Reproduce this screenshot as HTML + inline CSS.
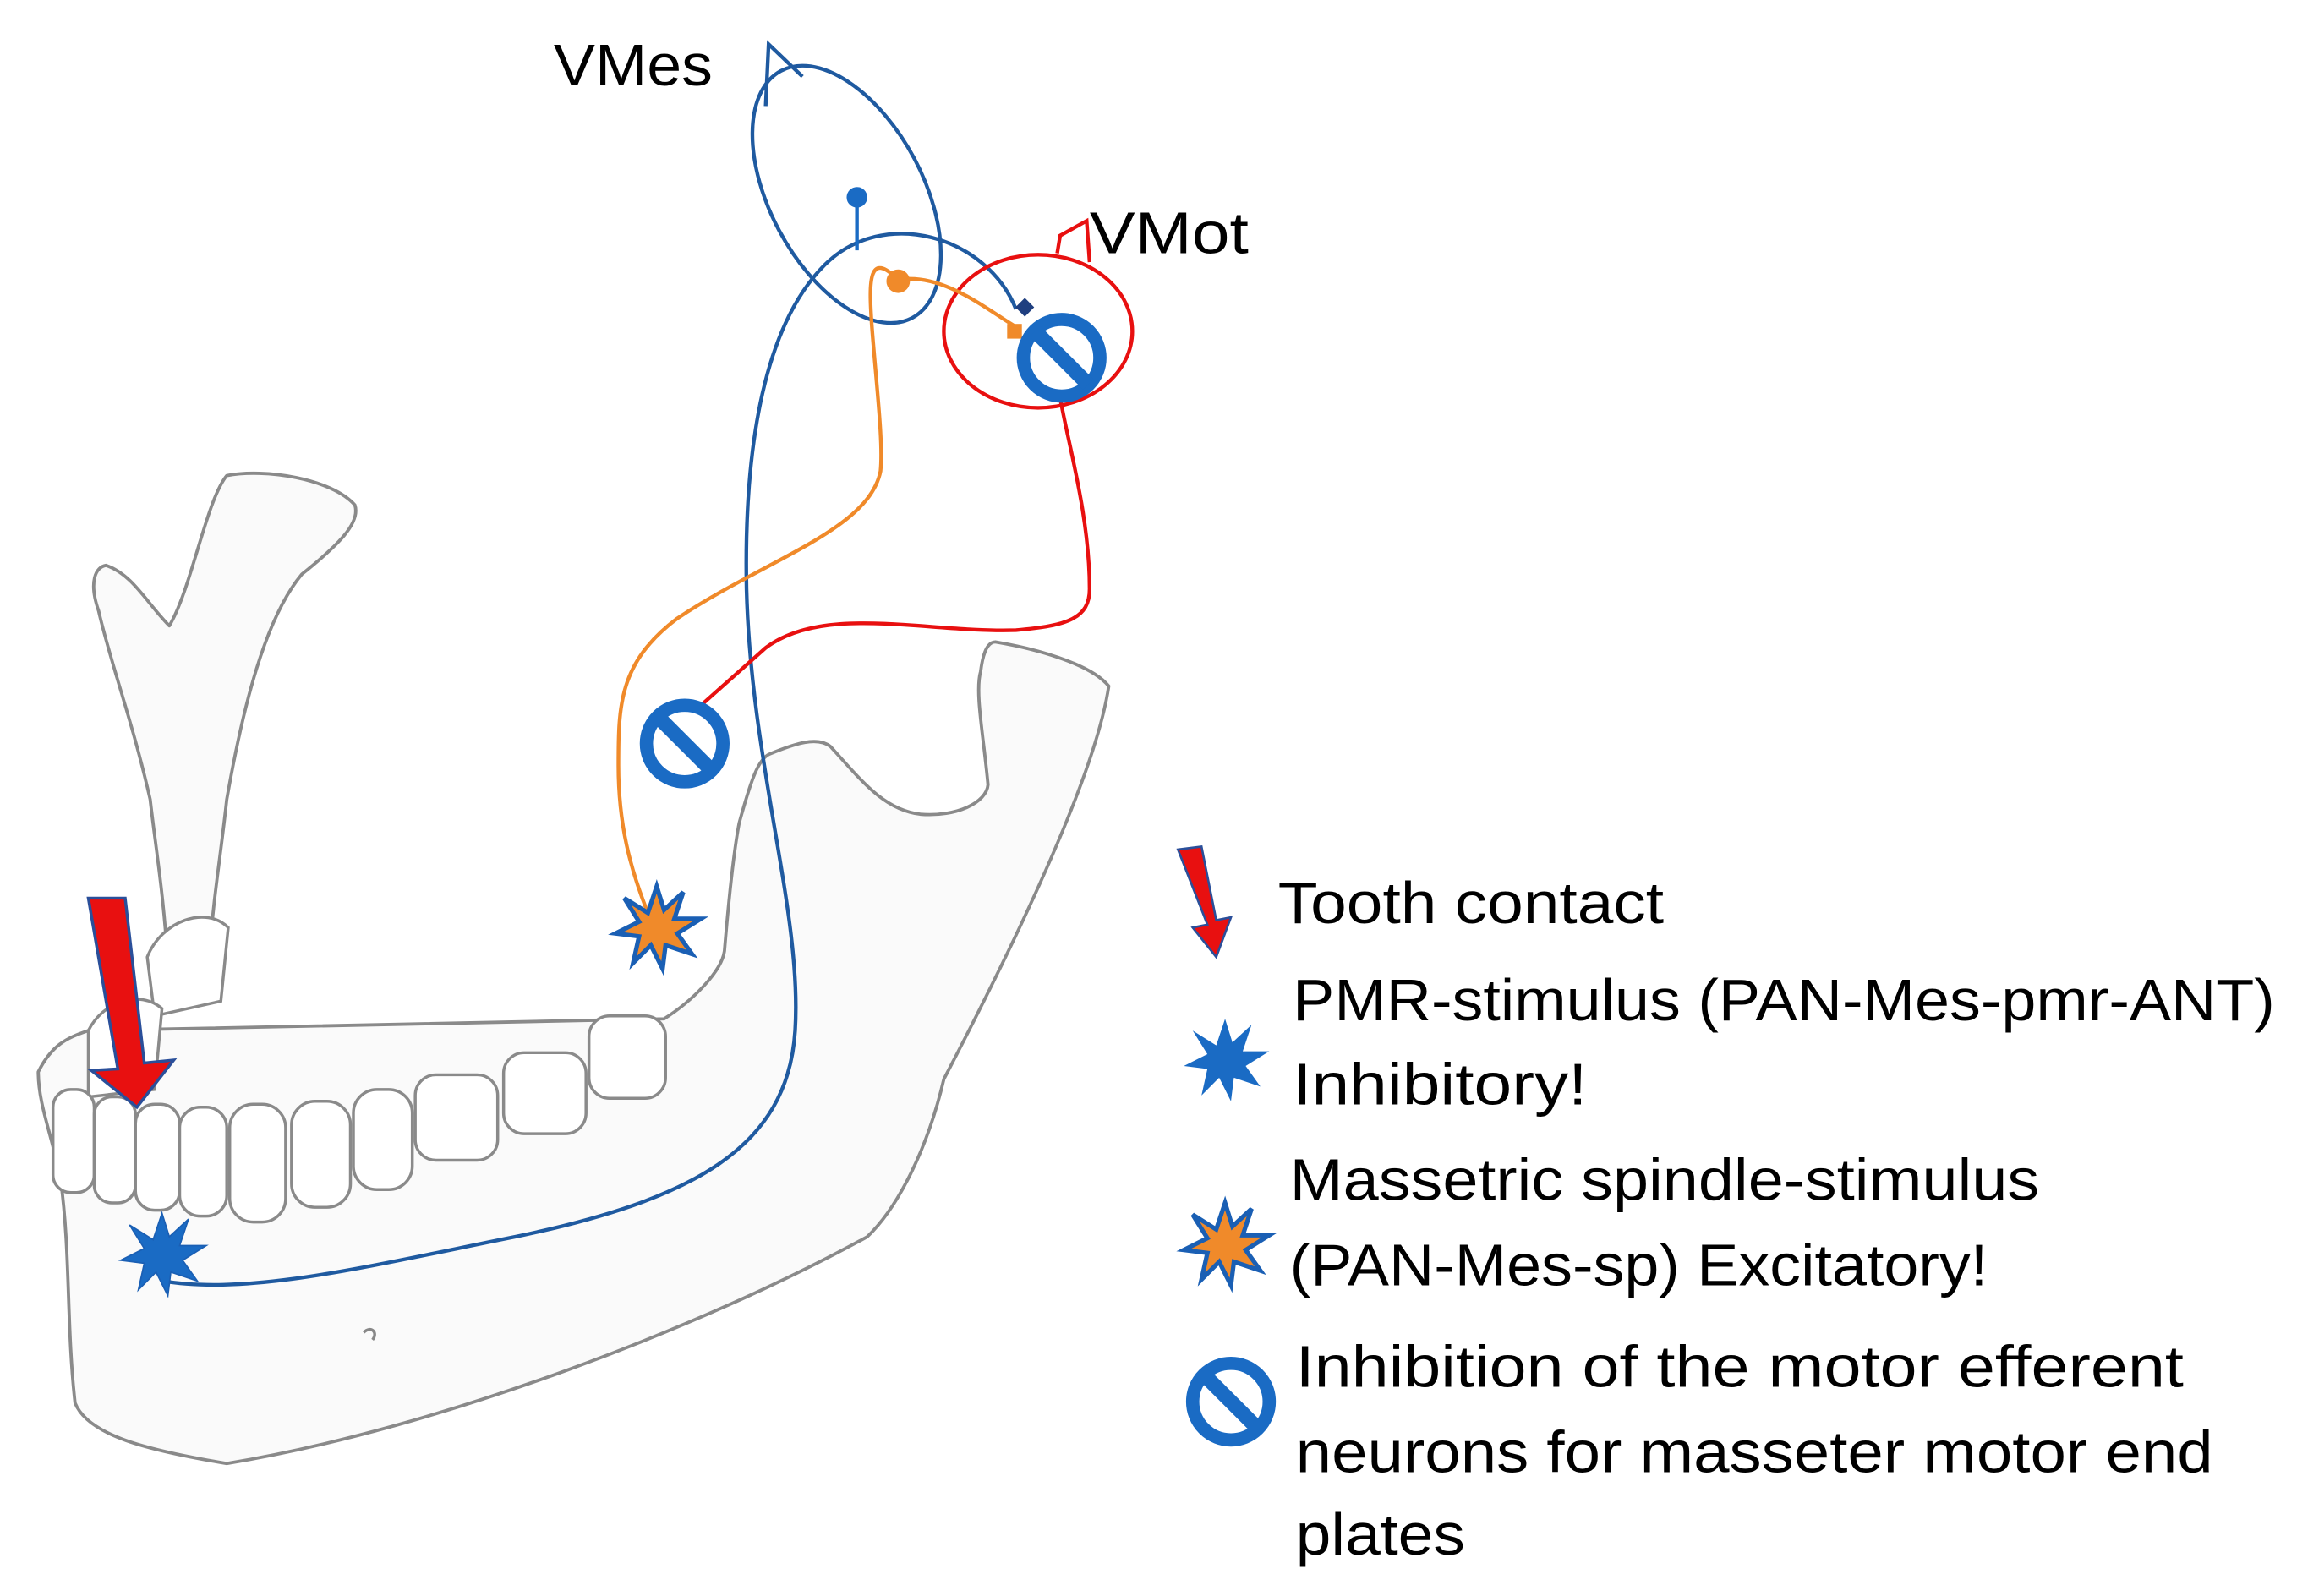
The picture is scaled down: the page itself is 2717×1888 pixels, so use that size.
<!DOCTYPE html>
<html><head><meta charset="utf-8"><style>
html,body{margin:0;padding:0;background:#fff;}
svg{display:block;}
text{font-family:"Liberation Sans",sans-serif;fill:#000;}
</style></head><body>
<svg width="2717" height="1888" viewBox="0 0 1560 1084" xmlns="http://www.w3.org/2000/svg">
<defs>
<g id="inh"><circle r="26" fill="none" stroke="#1a6bc4" stroke-width="9"/><line x1="-18" y1="-18" x2="18" y2="18" stroke="#1a6bc4" stroke-width="10"/></g>
<polygon id="star" points="0,-28 5,-12 18,-24 12,-6 30,-6 14,4 24,18 6,12 4,28 -4,12 -16,24 -12,6 -28,4 -12,-4 -22,-20 -6,-10"/>
</defs>
<!-- jaw -->
<g fill="#fafafa" stroke="#8a8a8a" stroke-width="2.2" stroke-linejoin="round">
<path d="M67,415 C60,395 65,385 72,384 C90,390 100,410 115,425 C130,400 140,340 154,323 C180,318 225,325 241,343 C245,355 230,370 205,390 C180,420 165,480 154,543 C150,580 145,610 143,640 L113,640 C110,600 105,570 102,543 C90,490 75,450 67,415 Z"/>
<path d="M26,728 C35,710 45,705 60,700 L451,692 C470,680 490,660 492,646 C495,610 498,580 502,559 C510,530 515,515 523,512 C540,505 555,500 564,507 C585,530 600,550 625,553 C650,555 670,545 671,533 C668,500 662,470 666,456 C668,440 672,436 676,436 C700,440 740,450 753,466 C745,520 700,620 641,733 C630,780 610,820 589,840 C480,900 300,970 154,994 C100,985 60,975 51,953 C45,900 48,850 41,800 C35,770 26,750 26,728 Z"/>
</g>
<g fill="#fff" stroke="#8a8a8a" stroke-width="2">
<path d="M100,650 C110,625 140,615 155,630 L150,680 L105,690 Z"/>
<path d="M60,700 C70,680 95,672 110,685 L105,740 L60,745 Z"/>
<rect x="36" y="740" width="28" height="70" rx="12"/>
<rect x="64" y="745" width="28" height="72" rx="12"/>
<rect x="92" y="750" width="30" height="72" rx="13"/>
<rect x="122" y="752" width="32" height="74" rx="14"/>
<rect x="156" y="750" width="38" height="80" rx="16"/>
<rect x="198" y="748" width="40" height="72" rx="16"/>
<rect x="240" y="740" width="40" height="68" rx="16"/>
<rect x="282" y="730" width="56" height="58" rx="14"/>
<rect x="342" y="715" width="56" height="55" rx="14"/>
<rect x="400" y="690" width="52" height="56" rx="14"/>
</g>
<path d="M247,905 c5,-5 10,0 6,5" fill="none" stroke="#888" stroke-width="2"/>
<!-- VMes neuron -->
<g fill="none" stroke="#1f5aa0" stroke-width="2.5">
<ellipse cx="575" cy="132" rx="52" ry="95" transform="rotate(-28 575 132)"/>
<path d="M520,72 L522,30 L545,52"/>
<path d="M690,210 C670,160 600,140 560,180 C520,220 505,300 507,400 C510,520 545,620 540,700 C535,780 470,815 350,840 C250,860 170,880 110,870"/>
<line x1="582" y1="134" x2="582" y2="170" stroke="#1a6bc4"/>
</g>
<circle cx="582" cy="134" r="7" fill="#1a6bc4"/>
<rect x="692" y="204" width="9" height="9" fill="#1f3f80" transform="rotate(45 696 208)"/>
<!-- VMot -->
<g fill="none" stroke="#e81010" stroke-width="2.5">
<ellipse cx="705" cy="225" rx="64" ry="52"/>
<path d="M718,172 L720,160 L738,150 L740,178"/>
<path d="M720,270 C725,300 740,350 740,400 C740,420 725,425 690,428 C630,430 560,410 520,440 L475,480"/>
</g>
<!-- orange -->
<g fill="none" stroke="#f08a2a" stroke-width="2.5">
<path d="M610,190 C640,185 670,210 690,222"/>
<path d="M610,190 C590,170 590,190 592,220 C595,260 600,300 598,320 C590,360 520,380 460,420 C420,450 420,480 420,520 C420,560 428,590 440,620"/>
</g>
<circle cx="610" cy="191" r="8" fill="#f08a2a"/>
<rect x="684" y="220" width="10" height="10" fill="#f08a2a"/>
<use href="#inh" x="721" y="243"/>
<use href="#inh" x="465" y="505"/>
<use href="#star" x="446" y="630" fill="#f08a2a" stroke="#1a5fb4" stroke-width="3"/>
<use href="#star" x="110" y="852" fill="#1a6bc4" stroke="#1a5fb4" stroke-width="1"/>
<!-- red arrow -->
<polygon points="60,610 85,610 98,722 118,720 93,752 62,727 80,726" fill="#e81010" stroke="#2a4f9a" stroke-width="2"/>
<text x="376" y="58" font-size="40" textLength="108" lengthAdjust="spacingAndGlyphs">VMes</text>
<text x="740" y="172" font-size="40" textLength="108" lengthAdjust="spacingAndGlyphs">VMot</text>
<!-- legend -->
<polygon points="800,577 816,575 826,625 836,623 826,650 810,630 820,628" fill="#e81010" stroke="#2a4f9a" stroke-width="1.5"/>
<text x="868" y="627" font-size="40" textLength="262" lengthAdjust="spacingAndGlyphs">Tooth contact</text>
<use href="#star" x="832" y="720" fill="#1a6bc4"/>
<text x="878" y="693" font-size="40" textLength="667" lengthAdjust="spacingAndGlyphs">PMR-stimulus (PAN-Mes-pmr-ANT)</text>
<text x="878" y="750" font-size="40" textLength="200" lengthAdjust="spacingAndGlyphs">Inhibitory!</text>
<use href="#star" x="832" y="845" fill="#f08a2a" stroke="#1a5fb4" stroke-width="3"/>
<text x="876" y="815" font-size="40" textLength="509" lengthAdjust="spacingAndGlyphs">Massetric spindle-stimulus</text>
<text x="876" y="873" font-size="40" textLength="474" lengthAdjust="spacingAndGlyphs">(PAN-Mes-sp) Excitatory!</text>
<use href="#inh" x="836" y="952"/>
<text x="880" y="942" font-size="40" textLength="603" lengthAdjust="spacingAndGlyphs">Inhibition of the motor efferent</text>
<text x="880" y="1000" font-size="40" textLength="623" lengthAdjust="spacingAndGlyphs">neurons for masseter motor end</text>
<text x="880" y="1056" font-size="40" textLength="115" lengthAdjust="spacingAndGlyphs">plates</text>
</svg>
</body></html>
